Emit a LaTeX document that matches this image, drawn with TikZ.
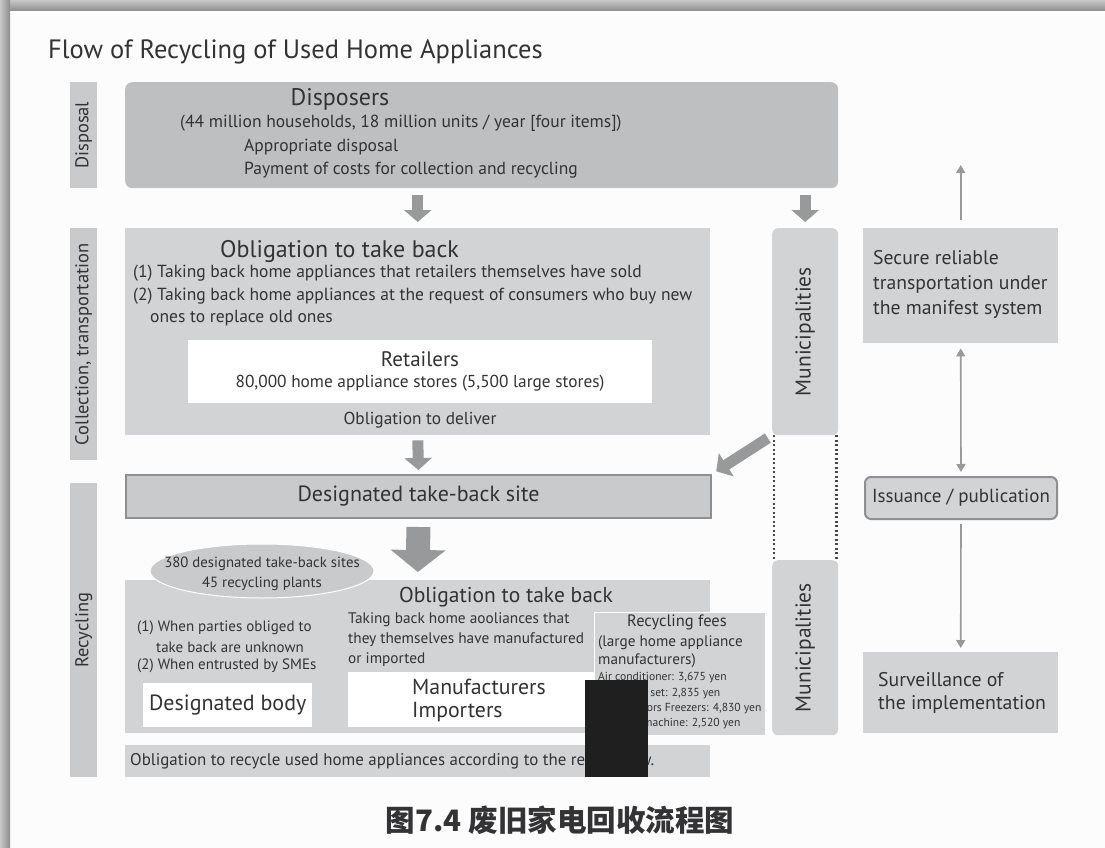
\documentclass[tikz,border=0pt]{standalone}
\usepackage{fontspec}
\setmainfont{PT Sans}
\newfontfamily\cjk{Noto Sans CJK SC}
\usetikzlibrary{arrows.meta,shapes.geometric}
\definecolor{txt}{HTML}{333335}
\definecolor{boxA}{HTML}{BEBFC1}
\definecolor{boxB}{HTML}{D2D3D5}
\definecolor{barC}{HTML}{C9CACC}
\definecolor{arr}{HTML}{98999B}
\definecolor{edgeC}{HTML}{8E8F91}
\newcommand{\fs}[1]{\fontsize{#1}{#1}\selectfont}
\tikzset{
  box/.style={draw=none, inner sep=0pt, anchor=north west},
  bar/.style={box, fill=barC, minimum width=27pt},
  bartext/.style={rotate=90, text=txt, font=\fs{18.5}},
  lbl/.style={anchor=west, inner sep=0pt, text=txt},
  ctr/.style={inner sep=0pt, text=txt},
  blk/.style={draw=arr, line width=11pt, -{Triangle[width=27pt,length=12pt]}},
  bigblk/.style={draw=arr, line width=24pt, -{Triangle[width=54pt,length=22pt]}},
  thin/.style={draw=arr, line width=1.6pt, -{Triangle[width=9pt,length=8pt]}},
  dots/.style={draw=black!72, line width=2.2pt, dash pattern=on 2pt off 2.5pt},
}
\begin{document}
\begin{tikzpicture}[x=1pt,y=-1pt]
\useasboundingbox (0,0) rectangle (1105,848);
\fill[white!99!black] (0,0) rectangle (1105,848);
% frame shadow
\shade[top color=black!22, bottom color=black!45] (0,0) rectangle (1105,11);
\shade[left color=black!22, right color=black!45] (0,0) rectangle (10,848);

\node[lbl, font=\fs{26.5}] (title) at (48,52) {Flow of Recycling of Used Home Appliances};

% section bars
\node[bar, minimum height=106pt] (bdisp) at (70,82) {};
\node[bartext] (tdisp) at (bdisp.center) {Disposal};
\node[bar, minimum height=232pt] (bcoll) at (70,228) {};
\node[bartext] (tcoll) at (bcoll.center) {Collection, transportation};
\node[bar, minimum height=294pt] (brec) at (70,483) {};
\node[bartext] (trec) at (brec.center) {Recycling};

% disposers
\node[box, fill=boxA, rounded corners=7pt, minimum width=713pt, minimum height=106pt] (disp) at (125,82) {};
\node[ctr, font=\fs{24}] (dispT) at (340,99) {Disposers};
\node[lbl, font=\fs{17.5}] (dispL1) at (180,123) {(44 million households, 18 million units / year [four items])};
\node[lbl, font=\fs{17.5}] (dispL2) at (244,147) {Appropriate disposal};
\node[lbl, font=\fs{17.5}] (dispL3) at (244,170) {Payment of costs for collection and recycling};

% collection
\node[box, fill=boxB, minimum width=585pt, minimum height=207pt] (oblig) at (125,228) {};
\node[lbl, font=\fs{24}] (obT) at (220,251) {Obligation to take back};
\node[lbl, font=\fs{17.5}] (ob1) at (133,273) {(1) Taking back home appliances that retailers themselves have sold};
\node[lbl, font=\fs{17.5}] (ob2) at (133,296) {(2) Taking back home appliances at the request of consumers who buy new};
\node[lbl, font=\fs{17.5}] (ob3) at (150,318) {ones to replace old ones};
\node[box, fill=white, minimum width=464pt, minimum height=63pt] (ret) at (188,340) {};
\node[ctr, font=\fs{21}] (retT) at (420,359) {Retailers};
\node[ctr, font=\fs{17.3}] (retL) at (420,383) {80,000 home appliance stores (5,500 large stores)};
\node[ctr, font=\fs{17.3}] (deliv) at (420,420) {Obligation to deliver};

% municipalities
\node[box, fill=boxB, rounded corners=6pt, minimum width=66pt, minimum height=207pt] (muni1) at (772,228) {};
\node[ctr, rotate=90, font=\fs{21.5}] (muni1T) at (muni1.center) {Municipalities};
\node[box, fill=boxB, rounded corners=6pt, minimum width=66pt, minimum height=175pt] (muni2) at (772,560) {};
\node[ctr, rotate=90, font=\fs{21.5}] (muni2T) at (muni2.center) {Municipalities};
\draw[dots] ([xshift=2pt]muni1.south west) -- ([xshift=2pt]muni2.north west);
\draw[dots] ([xshift=-2pt]muni1.south east) -- ([xshift=-2pt]muni2.north east);

% designated take-back site
\node[box, fill=barC, draw=edgeC, line width=2pt, minimum width=585pt, minimum height=43pt] (site) at (125,474) {};
\node[ctr, font=\fs{22}] (siteT) at (site.center) {Designated take-back site};

% recycling
\node[box, fill=boxB, minimum width=585pt, minimum height=153pt] (rec) at (125,580) {};
\node[ellipse, fill=barC, draw=white, line width=1pt, minimum width=224pt, minimum height=54pt, inner sep=0pt] (ell) at (262,571) {};
\node[ctr, font=\fs{14.8}, align=center, yshift=-3pt] (ellT) at (ell.center) {380 designated take-back sites\\[5pt]45 recycling plants};
\node[ctr, font=\fs{21.5}] (recT) at (506,597) {Obligation to take back};
\node[lbl, font=\fs{15}] (r1) at (137,628) {(1) When parties obliged to};
\node[lbl, font=\fs{15}] (r2) at (156,647) {take back are unknown};
\node[lbl, font=\fs{15}] (r3) at (137,666) {(2) When entrusted by SMEs};
\node[box, fill=white, minimum width=169pt, minimum height=44pt] (body) at (143,683) {};
\node[ctr, font=\fs{22}] (bodyT) at (body.center) {Designated body};
\node[lbl, font=\fs{15.3}] (m1) at (348,620) {Taking back home aooliances that};
\node[lbl, font=\fs{15.3}] (m2) at (348,640) {they themselves have manufactured};
\node[lbl, font=\fs{15.3}] (m3) at (348,660) {or imported};
\node[box, fill=white, minimum width=252pt, minimum height=55pt] (manu) at (348,672) {};
\node[lbl, font=\fs{21.8}] (manuT1) at (412,687) {Manufacturers};
\node[lbl, font=\fs{21.8}] (manuT2) at (412,712) {Importers};
\node[box, fill=boxB, draw=white, line width=1pt, minimum width=171pt, minimum height=123pt] (fees) at (594,612) {};
\node[ctr, font=\fs{16.5}] (feesT) at (677,622) {Recycling fees};
\node[lbl, font=\fs{15.2}] (f1) at (598,643) {(large home appliance};
\node[lbl, font=\fs{15.2}] (f2) at (598,661) {manufacturers)};
\node[lbl, font=\fs{11.6}] (f3) at (598,678) {Air conditioner: 3,675 yen};
\node[lbl, font=\fs{11.6}] (f4) at (598,694) {Television set: 2,835 yen};
\node[lbl, font=\fs{11.6}] (f5) at (598,709) {Refrigerators Freezers: 4,830 yen};
\node[lbl, font=\fs{11.6}] (f6) at (598,724) {Washing machine: 2,520 yen};
\node[box, fill=boxB, minimum width=585pt, minimum height=32pt] (bot) at (125,745) {};
\node[lbl, font=\fs{16.9}] (botT) at (130,761) {Obligation to recycle used home appliances according to the recycle law.};
\fill[black!88] (585,680) rectangle (648,777);

% right column
\node[box, fill=boxB, minimum width=195pt, minimum height=115pt] (secure) at (863,228) {};
\node[lbl, align=left, font=\fontsize{19.7}{25}\selectfont] (secT) at (873,285) {Secure reliable\\transportation under\\the manifest system};
\coordinate (uptop) at (secure.north |- 0,165);
\node[box, fill=boxB, draw=edgeC, line width=2pt, rounded corners=6pt, minimum width=192pt, minimum height=42pt] (issue) at (864,476) {};
\node[ctr, font=\fs{19}] (issueT) at (issue.center) {Issuance / publication};
\node[box, fill=boxB, minimum width=195pt, minimum height=81pt] (surv) at (863,652) {};
\node[lbl, align=left, font=\fontsize{19.8}{23}\selectfont] (survT) at (878,693) {Surveillance of\\the implementation};

% connectors
\draw[blk, shorten <=7pt, shorten >=6pt] (disp.south -| oblig.north) -- (oblig.north);
\draw[blk, shorten <=7pt, shorten >=6pt] (disp.south -| muni1.north) -- (muni1.north);
\draw[blk, shorten <=5pt, shorten >=4pt] (oblig.south) -- (site.north);
\draw[blk, shorten <=5pt, shorten >=5pt] (muni1.south west) -- (site.north east);
\draw[bigblk, shorten <=8pt, shorten >=8pt] (site.south) -- (rec.north);
\draw[thin, shorten <=8pt] (secure.north) -- (uptop);
\draw[thin, {Triangle[width=9pt,length=8pt]}-{Triangle[width=9pt,length=8pt]}, shorten <=5pt, shorten >=4pt] (secure.south) -- (issue.north);
\draw[thin, shorten <=4pt, shorten >=4pt] (issue.south) -- (surv.north);

\node[ctr, font=\cjk\bfseries\fs{29.5}] (cap) at (560,820) {图7.4 废旧家电回收流程图};
\end{tikzpicture}
\end{document}
